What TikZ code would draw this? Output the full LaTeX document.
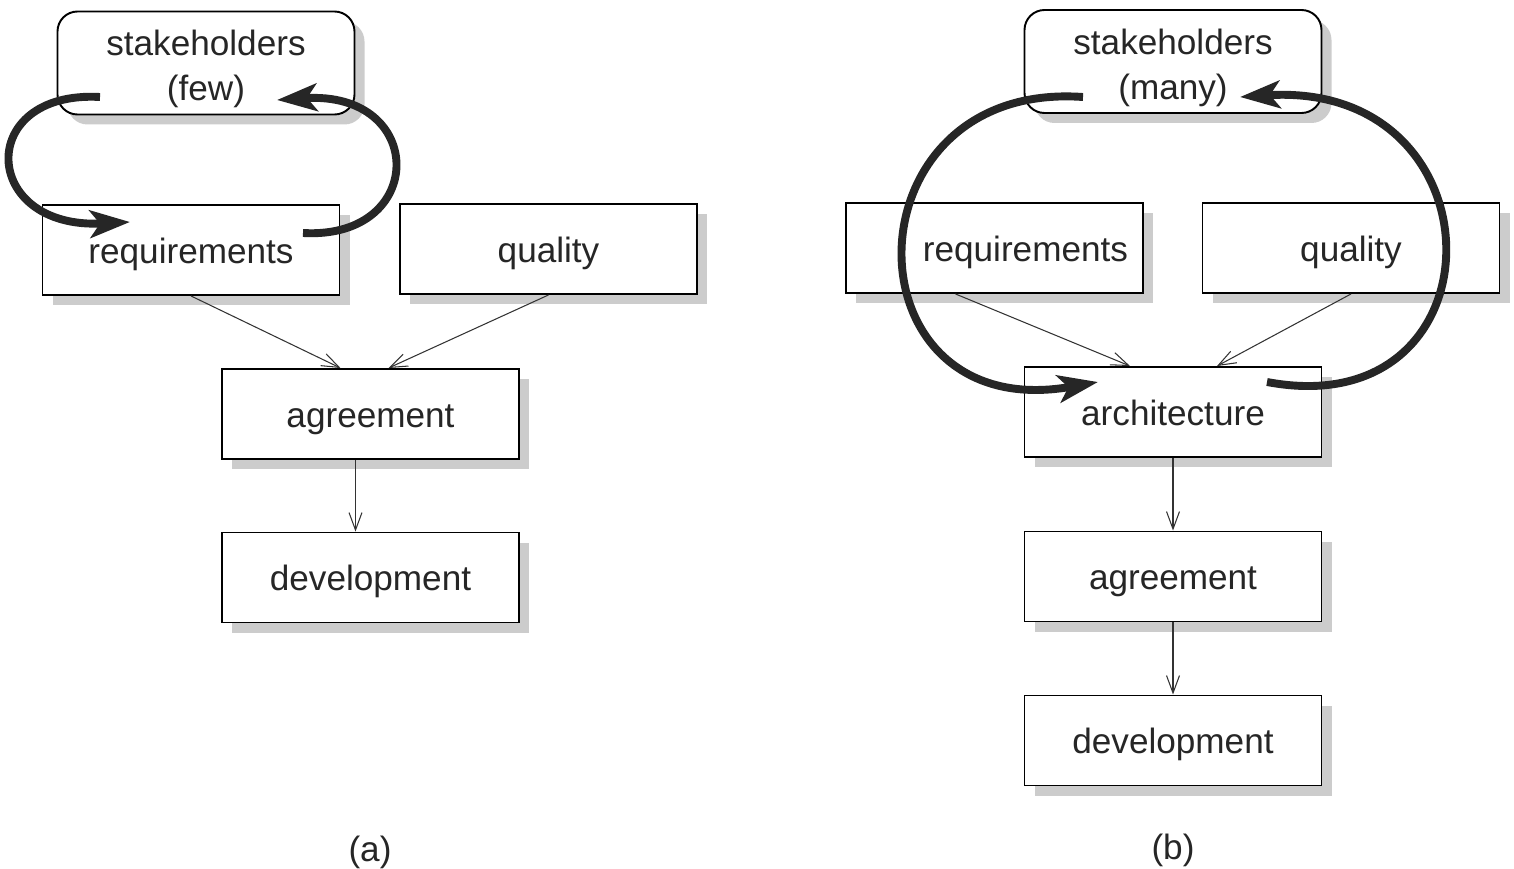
\documentclass[tikz,border=0pt]{standalone}
\usepackage{fontspec}
\setmainfont{Liberation Sans}
\usetikzlibrary{arrows.meta,shadows,calc}
\begin{document}
\begin{tikzpicture}[
  box/.style={rectangle,draw=black,line width=1.1pt,fill=white,minimum width=5.94cm,minimum height=1.8cm,
    text=black!85,text height=15pt,text depth=0.2pt,font=\fontsize{20}{25.6}\selectfont,
    drop shadow={shadow xshift=0.2cm,shadow yshift=-0.2cm,fill=black!20,opacity=1}},
  sbox/.style={box,rounded corners=0.4cm,minimum height=2.06cm,align=center,text height=,text depth=},
  flow/.style={draw=black!80,line width=0.6pt,-{Straight Barb[length=3.5mm,width=2.6mm]}},
  loop/.style={draw=black!85,line width=4.5pt,-{Stealth[length=8mm,width=5.5mm,inset=2mm]}},
  tag/.style={text=black!85,font=\fontsize{20}{24}\selectfont}
]
\useasboundingbox (0,0) rectangle (30.28,-17.38);

% (a)
\node[sbox] (shA) at (4.12,-1.26) {\rule{0pt}{0.76cm}stakeholders\\(few)};
\node[box] (reqA) at (3.82,-5.0) {requirements};
\node[box] (qualA) at (10.97,-4.98) {quality};
\node[box] (agrA) at (7.41,-8.28) {agreement};
\node[box] (devA) at (7.41,-11.55) {development};
\node[tag] (labA) at (7.40,-17.04) {(a)};

\draw[flow] (reqA.south) -- ($(agrA.north)+(-0.6,0)$);
\draw[flow] (qualA.south) -- ($(agrA.north)+(0.36,0)$);
\draw[flow] ($(agrA.south)+(-0.3,0)$) -- ($(devA.north)+(-0.3,0)$);

\coordinate (a1) at (2.0,-1.94);
\coordinate (a2) at (2.6,-4.44);
\coordinate (a3) at (6.06,-4.66);
\coordinate (a4) at (5.54,-2.0);
\draw[loop] (a1) .. controls (-0.5,-1.8) and (-0.4,-4.6) .. (a2);
\draw[loop] (a3) .. controls (8.55,-4.8) and (8.55,-1.8) .. (a4);

% (b)
\node[sbox] (shB) at (23.46,-1.23) {\rule{0pt}{0.76cm}stakeholders\\(many)};
\node[box,text width=5.34cm,align=right] (reqB) at (19.89,-4.96) {requirements};
\node[box] (qualB) at (27.02,-4.96) {quality};
\node[box] (arcB) at (23.46,-8.24) {architecture};
\node[box] (agrB) at (23.46,-11.53) {agreement};
\node[box] (devB) at (23.46,-14.81) {development};
\node[tag] (labB) at (23.46,-17.0) {(b)};

\draw[flow] ($(reqB.south)+(-0.78,0)$) -- ($(arcB.north)+(-0.86,0)$);
\draw[flow] (qualB.south) -- ($(arcB.north)+(0.88,0)$);
\draw[flow] (arcB) -- (agrB);
\draw[flow] (agrB) -- (devB);

\coordinate (b1) at (21.66,-1.94);
\coordinate (b2) at (21.96,-7.64);
\coordinate (b3) at (25.34,-7.64);
\coordinate (b4) at (24.8,-1.94);
\draw[loop] (b1) .. controls (16.86,-1.6) and (16.86,-8.54) .. (b2);
\draw[loop] (b3) .. controls (30.12,-8.54) and (30.12,-1.6) .. (b4);

\end{tikzpicture}
\end{document}
